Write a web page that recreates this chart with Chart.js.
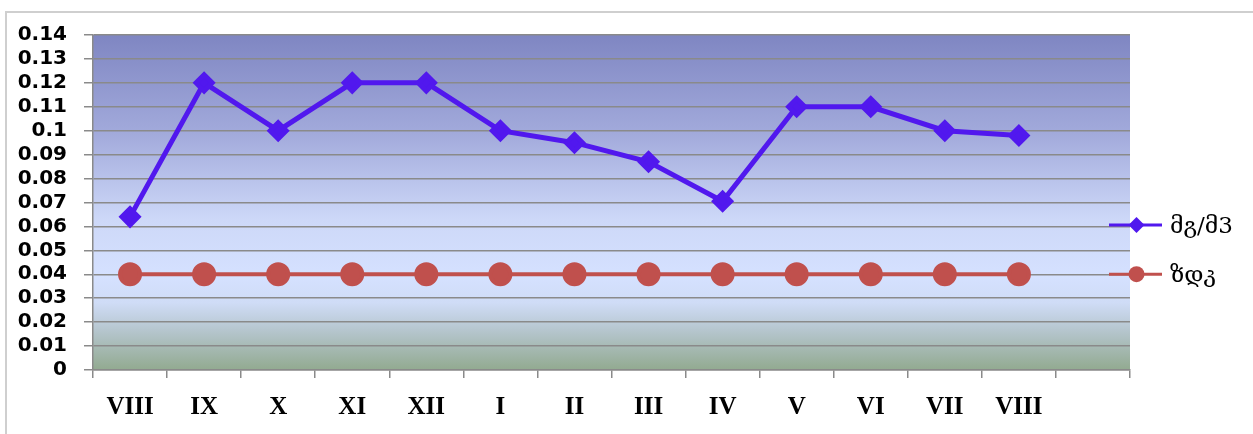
<!DOCTYPE html>
<html>
<head>
<meta charset="utf-8">
<script src="https://cdn.jsdelivr.net/npm/chart.js@4.4.0/dist/chart.umd.min.js"></script>
<style>
  html, body { margin: 0; padding: 0; background: #fff; }
  #wrap { position: relative; width: 1253px; height: 434px; overflow: hidden; }
  #frame { position: absolute; left: 5px; top: 11px; width: 1400px; height: 600px;
           border-left: 2px solid #cfcfcf; border-top: 2px solid #cfcfcf; }
  #chart { position: absolute; left: 0; top: 0; }
</style>
</head>
<body>
<div id="wrap">
  <div id="frame"></div>
  <canvas id="chart" width="1253" height="434"></canvas>
</div>
<script>
// --- Data ---
const months = ['VIII', 'IX', 'X', 'XI', 'XII', 'I', 'II', 'III', 'IV', 'V', 'VI', 'VII', 'VIII', '']
const measured = [0.064, 0.12, 0.10, 0.12, 0.12, 0.10, 0.095, 0.087, 0.0705, 0.11, 0.11, 0.10, 0.098, null]
const limitValues = [0.04, 0.04, 0.04, 0.04, 0.04, 0.04, 0.04, 0.04, 0.04, 0.04, 0.04, 0.04, 0.04, null]
const seriesNames = ['მგ/მ3', 'ზდკ']

const gridGray = '#8a8a8a'

// gradient behind the plot area
const plotBackground = {
  id: 'plotBackground',
  beforeDraw(chart) {
    const { ctx, chartArea: a } = chart
    const g = ctx.createLinearGradient(0, a.top, 0, a.bottom)
    g.addColorStop(0, '#7f86c2')
    g.addColorStop(0.3, '#a3abdc')
    g.addColorStop(0.55, '#cdd8f8')
    g.addColorStop(0.72, '#d5e1ff')
    g.addColorStop(0.8, '#cfdcf6')
    g.addColorStop(0.88, '#b6c6cf')
    g.addColorStop(1, '#92aa90')
    ctx.save()
    ctx.fillStyle = g
    ctx.fillRect(a.left, a.top, a.right - a.left, a.bottom - a.top)
    ctx.restore()
  }
}

// legend on the right: short line with marker, then the name
const sideLegend = {
  id: 'sideLegend',
  afterDraw(chart) {
    const { ctx, chartArea: a } = chart
    const rows = [a.top + (a.bottom - a.top) * 0.567, a.top + (a.bottom - a.top) * 0.714]
    chart.data.datasets.forEach((ds, i) => {
      const y = rows[i]
      const x0 = a.right - 21
      const x1 = a.right + 32
      const xm = (x0 + x1) / 2 + 1
      ctx.save()
      ctx.strokeStyle = ds.borderColor
      ctx.lineWidth = 3
      ctx.beginPath()
      ctx.moveTo(x0, y)
      ctx.lineTo(x1, y)
      ctx.stroke()
      ctx.fillStyle = ds.pointBackgroundColor
      ctx.beginPath()
      if (ds.pointStyle === 'rectRot') {
        const r = 8
        ctx.moveTo(xm, y - r)
        ctx.lineTo(xm + r, y)
        ctx.lineTo(xm, y + r)
        ctx.lineTo(xm - r, y)
        ctx.closePath()
      } else {
        ctx.arc(xm, y, 8, 0, Math.PI * 2)
      }
      ctx.fill()
      ctx.fillStyle = '#000'
      ctx.font = '23px "DejaVu Serif", "DejaVu Sans"'
      ctx.textBaseline = 'middle'
      ctx.fillText(ds.label, a.right + 40, y + 2)
      ctx.restore()
    })
  }
}

new Chart(document.getElementById('chart'), {
  type: 'line',
  data: {
    labels: months,
    datasets: [
      {
        label: seriesNames[0],
        data: measured,
        borderColor: '#5118ee',
        backgroundColor: '#5118ee',
        pointBackgroundColor: '#5118ee',
        pointBorderColor: '#5118ee',
        borderWidth: 5,
        pointStyle: 'rectRot',
        pointRadius: 8,
        tension: 0
      },
      {
        label: seriesNames[1],
        data: limitValues,
        borderColor: '#c0504d',
        backgroundColor: '#c0504d',
        pointBackgroundColor: '#c0504d',
        pointBorderColor: '#c0504d',
        borderWidth: 4,
        pointStyle: 'circle',
        pointRadius: 10,
        tension: 0
      }
    ]
  },
  options: {
    responsive: false,
    animation: false,
    events: [],
    layout: { padding: { left: 0, right: 123, top: 35, bottom: 0 } },
    plugins: {
      legend: { display: false },
      tooltip: { enabled: false }
    },
    scales: {
      x: {
        offset: true,
        grid: {
          offset: true,
          drawOnChartArea: false,
          drawTicks: true,
          tickLength: 8,
          color: gridGray,
          lineWidth: 1.5
        },
        border: { color: gridGray, width: 1.5 },
        ticks: {
          color: '#000',
          padding: 15,
          autoSkip: false,
          maxRotation: 0,
          font: { family: '"Liberation Serif", "Times New Roman", serif', size: 25, weight: 'bold' }
        },
        afterFit(scale) { scale.height = 64 }
      },
      y: {
        min: 0,
        max: 0.14,
        ticks: {
          stepSize: 0.01,
          autoSkip: false,
          color: '#000',
          padding: 17,
          font: { family: '"DejaVu Sans", sans-serif', size: 20, weight: 'bold' },
          callback: (v) => String(Number(v.toFixed(2)))
        },
        grid: {
          color: gridGray,
          lineWidth: 1.5,
          tickLength: 9
        },
        border: { color: gridGray, width: 1.5 },
        afterFit(scale) { scale.width = 93 }
      }
    }
  },
  plugins: [plotBackground, sideLegend]
})
</script>
</body>
</html>
